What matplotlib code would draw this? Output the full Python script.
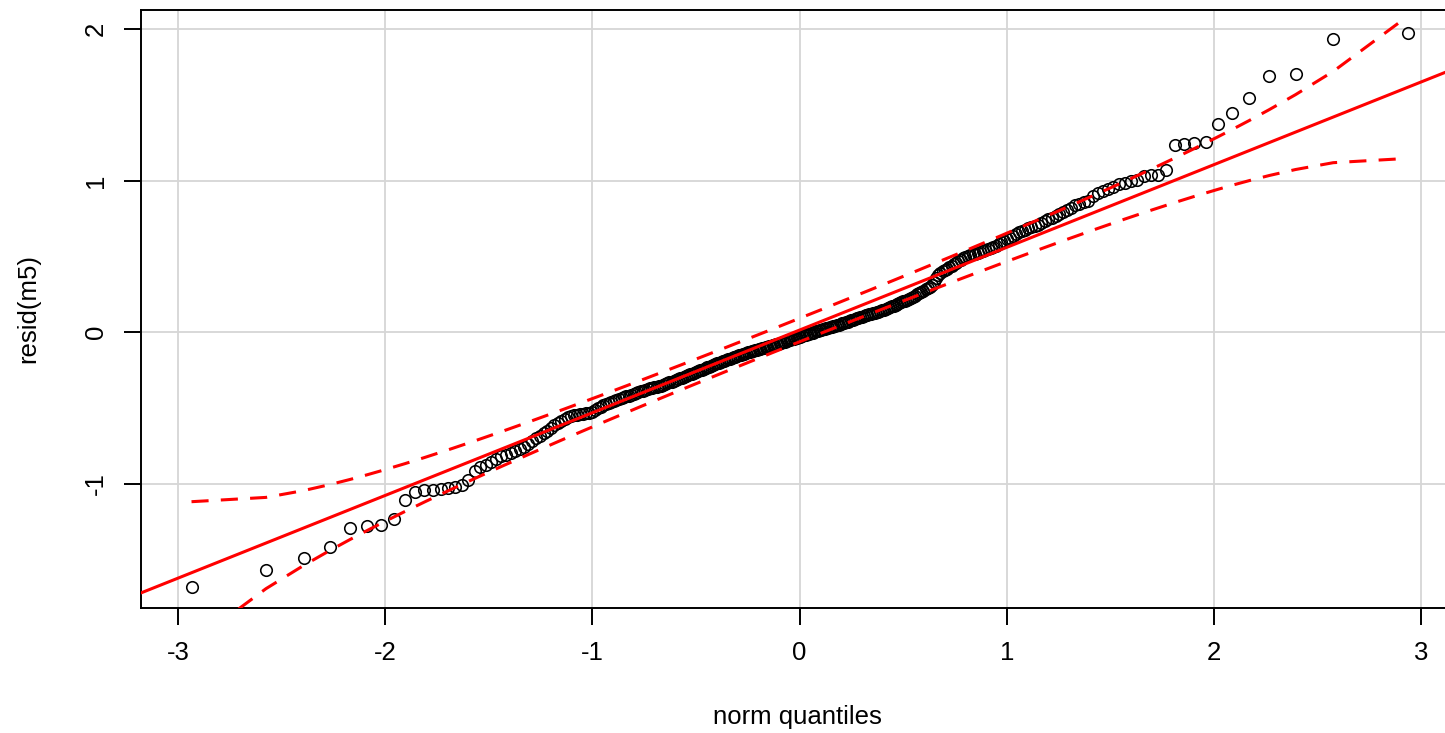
# QQ plot of model residuals against normal quantiles, with reference line and 95% envelope

import numpy as np
import matplotlib.pyplot as plt
from statistics import NormalDist

plt.rcParams['font.family'] = ['Liberation Sans', 'DejaVu Sans']
plt.rcParams['axes.unicode_minus'] = False

# Sorted residuals of m5 (n = 300)
resid_lo = [-1.680, -1.565, -1.490, -1.415, -1.290, -1.280, -1.270, -1.230, -1.105, -1.055,
            -1.042, -1.037, -1.035, -1.030, -1.020, -1.010, -0.975, -0.912, -0.890, -0.872,
            -0.855, -0.837, -0.817, -0.806, -0.796, -0.781, -0.770, -0.756, -0.737, -0.718,
            -0.700, -0.684, -0.667, -0.648, -0.630, -0.613, -0.598, -0.583, -0.570, -0.561,
            -0.554, -0.547, -0.543, -0.540, -0.537, -0.534, -0.530, -0.523, -0.513, -0.502,
            -0.490, -0.479, -0.472, -0.466, -0.459, -0.453, -0.447, -0.441, -0.436, -0.430,
            -0.423, -0.417, -0.411, -0.406, -0.400, -0.395, -0.390, -0.385, -0.380, -0.375,
            -0.370, -0.366, -0.362, -0.359, -0.356, -0.352, -0.347, -0.341, -0.336, -0.331,
            -0.326, -0.320, -0.315, -0.310, -0.304, -0.299, -0.294, -0.288, -0.283, -0.278,
            -0.273, -0.267, -0.262, -0.256, -0.251, -0.246, -0.241, -0.236, -0.231, -0.226,
            -0.220, -0.215, -0.210, -0.205, -0.200, -0.196, -0.191, -0.187, -0.183, -0.178,
            -0.174, -0.170, -0.166, -0.161, -0.157, -0.153, -0.149, -0.145, -0.141, -0.137,
            -0.133, -0.129, -0.126, -0.122, -0.118, -0.114, -0.111, -0.107, -0.104, -0.101,
            -0.098, -0.095, -0.092, -0.089, -0.086, -0.083, -0.080, -0.077, -0.073, -0.070,
            -0.066, -0.062, -0.058, -0.054, -0.050, -0.046, -0.042, -0.038, -0.035, -0.032]
resid_hi = [-0.028, -0.024, -0.020, -0.017, -0.013, -0.010, -0.006, -0.002, 0.002, 0.006,
            0.009, 0.012, 0.015, 0.019, 0.022, 0.026, 0.029, 0.033, 0.036, 0.039,
            0.042, 0.046, 0.050, 0.054, 0.058, 0.062, 0.066, 0.071, 0.075, 0.080,
            0.084, 0.088, 0.092, 0.096, 0.100, 0.104, 0.107, 0.111, 0.115, 0.118,
            0.122, 0.126, 0.129, 0.133, 0.137, 0.141, 0.145, 0.150, 0.155, 0.160,
            0.166, 0.171, 0.176, 0.181, 0.186, 0.191, 0.197, 0.203, 0.209, 0.216,
            0.222, 0.229, 0.235, 0.242, 0.250, 0.258, 0.266, 0.274, 0.283, 0.291,
            0.299, 0.313, 0.330, 0.355, 0.380, 0.390, 0.402, 0.412, 0.420, 0.428,
            0.438, 0.448, 0.458, 0.468, 0.478, 0.488, 0.495, 0.501, 0.507, 0.513,
            0.519, 0.525, 0.531, 0.537, 0.543, 0.549, 0.555, 0.562, 0.572, 0.582,
            0.592, 0.603, 0.613, 0.624, 0.636, 0.648, 0.659, 0.668, 0.677, 0.686,
            0.694, 0.702, 0.710, 0.720, 0.732, 0.744, 0.756, 0.769, 0.782, 0.795,
            0.809, 0.822, 0.836, 0.849, 0.858, 0.868, 0.897, 0.918, 0.933, 0.946,
            0.960, 0.976, 0.987, 0.995, 1.005, 1.028, 1.034, 1.040, 1.072, 1.236,
            1.240, 1.248, 1.255, 1.376, 1.448, 1.545, 1.690, 1.703, 1.931, 1.973]

x_ticks = [-3, -2, -1, 0, 1, 2, 3]
y_ticks = [-1, 0, 1, 2]

# Theoretical quantiles (ppoints, as in car::qqPlot)
res = np.sort(np.array(resid_lo + resid_hi))
n = len(res)
P = (np.arange(1, n + 1) - 0.5) / n
nd = NormalDist()
z = np.array([nd.inv_cdf(p) for p in P])
dens = np.array([nd.pdf(v) for v in z])

# Line through the quartiles
Qx = np.quantile(res, [0.25, 0.75])
Qz = np.array([nd.inv_cdf(0.25), nd.inv_cdf(0.75)])
b = (Qx[1] - Qx[0]) / (Qz[1] - Qz[0])
a = Qx[0] - b * Qz[0]

# Pointwise 95% envelope
zz = nd.inv_cdf(0.975)
SE = (b / dens) * np.sqrt(P * (1 - P) / n)
fit = a + b * z
upper = fit + zz * SE
lower = fit - zz * SE

fig = plt.figure(figsize=(14.45, 7.33), dpi=100, facecolor='white')
ax = fig.add_axes([0.09758, 0.17053, 0.91211, 0.81583])

ax.grid(True, color='#d6d6d6', lw=1.3)
ax.set_axisbelow(True)

ax.plot(z, res, 'o', mfc='none', mec='black', ms=8.3, mew=1.15, zorder=3)
ax.axline((0, a), slope=b, color='#ff0000', lw=2.2, zorder=4)
ax.plot(z, upper, color='#ff0000', lw=2.2, dashes=(5.6, 4), zorder=4)
ax.plot(z, lower, color='#ff0000', lw=2.2, dashes=(5.6, 4), zorder=4)

ax.set_xlim(-3.179, 3.183)
ax.set_ylim(-1.818, 2.125)
ax.set_xticks(x_ticks)
ax.set_yticks(y_ticks)
ax.set_xticklabels([str(t) for t in x_ticks])
ax.set_yticklabels([str(t) for t in y_ticks], rotation=90, va='center')
ax.tick_params(axis='both', length=12, width=1.4, labelsize=18.5, colors='black')
ax.tick_params(axis='x', pad=11.5)
ax.tick_params(axis='y', pad=12)
for s in ax.spines.values():
    s.set_linewidth(1.4)

ax.set_xlabel('norm quantiles', fontsize=18.5)
ax.set_ylabel('resid(m5)', fontsize=18.5)
ax.xaxis.set_label_coords(0.4977, -0.182)
ax.xaxis.label.set_va('center')
ax.yaxis.set_label_coords(-0.0857, 0.5)
ax.yaxis.label.set_va('center')

fig.savefig('out.png', dpi=100, facecolor='white')
